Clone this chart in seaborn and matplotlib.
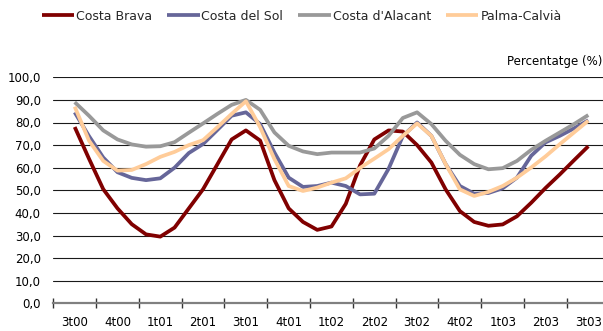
import numpy as np
import pandas as pd
import matplotlib
matplotlib.use("Agg")
import matplotlib.pyplot as plt
import seaborn as sns

# ---- data (monthly occupancy, Jul-2000 .. Jul-2003) ----
quarter_labels = ["3t00", "4t00", "1t01", "2t01", "3t01", "4t01", "1t02",
                  "2t02", "3t02", "4t02", "1t03", "2t03", "3t03"]
months = list(range(37))

costa_brava = [78, 64, 50.5, 42, 35, 30.5, 29.5, 33.5, 42, 50.5, 61.5, 72.5, 76.5,
               72, 54.5, 42, 36, 32.5, 34, 44, 61, 72.5, 76.5, 76, 70,
               62.3, 50.4, 40.8, 36, 34.3, 34.9, 38.5, 44.5, 51, 57, 63.3, 69.5]
costa_sol = [84.5, 74, 64.5, 58, 55.5, 54.5, 55.3, 60, 66.5, 70.5, 76.7, 83, 84.5,
             79.3, 66.7, 55.6, 51.5, 51.9, 53.4, 51.9, 48.2, 48.5, 59.5, 74, 80,
             74.1, 61.6, 51.9, 48.5, 48.8, 50.9, 55.6, 65.3, 71.2, 74.1, 77.4, 81]
costa_alacant = [89, 83, 76.5, 72.5, 70.3, 69.3, 69.5, 71.3, 75.5, 79.6, 83.8, 87.8, 90,
                 85.6, 75.6, 69.7, 67.2, 66, 66.7, 66.7, 66.7, 68.5, 74.1, 82, 84.5,
                 79.3, 71.9, 65.7, 61.6, 59.3, 59.8, 63, 67.9, 71.9, 75.6, 79.3, 83.3]
palma_calvia = [87, 72, 63, 58.7, 59, 61.6, 64.8, 67, 70, 72.2, 77.9, 83.8, 89.4,
                77.9, 63.8, 51.9, 49.7, 51.2, 53.4, 55.3, 59.9, 64, 68.2, 74.1, 79.6,
                74.1, 61.6, 50.4, 47.5, 49.3, 51.9, 55.6, 60.1, 65, 70.4, 75.6, 80.8]

series_names = ["Costa Brava", "Costa del Sol", "Costa d'Alacant", "Palma-Calvià"]
series_colors = ["#800000", "#666699", "#999999", "#FFCC99"]
y_ticks = list(range(0, 101, 10))

df = pd.DataFrame({
    "mes": months * 4,
    "valor": costa_brava + costa_sol + costa_alacant + palma_calvia,
    "zona": np.repeat(series_names, len(months)),
})

sns.set_theme(style="white")
plt.rcParams["font.family"] = ["DejaVu Sans"]

W, H = 603, 331
fig = plt.figure(figsize=(W / 100, H / 100), dpi=100)
fig.patch.set_facecolor("white")
ax = fig.add_axes([53.3 / W, (H - 303.3) / H, 13 * 42.8 / W, 226 / H])

sns.lineplot(data=df, x="mes", y="valor", hue="zona", hue_order=series_names,
             palette=dict(zip(series_names, series_colors)), linewidth=2.7,
             ax=ax, legend=False, sort=False,
             solid_joinstyle="round", solid_capstyle="butt")

ax.set_xlim(-1.5, 37.5)
ax.set_ylim(0, 100)
ax.set_xlabel("")
ax.set_ylabel("")

# y axis
ax.set_yticks(y_ticks)
ax.set_yticklabels([f"{v:.1f}".replace(".", ",") for v in y_ticks])
ax.tick_params(axis="y", length=0, pad=9, labelsize=8.5, labelcolor="black")
ax.yaxis.grid(True, color="#1a1a1a", linewidth=0.8)
ax.xaxis.grid(False)
ax.set_axisbelow(True)

# x axis
ax.set_xticks([-1.5 + 3 * k for k in range(13)])
ax.set_xticklabels([])
ax.set_xticks([3 * k for k in range(13)], minor=True)
ax.set_xticklabels(quarter_labels, minor=True)
ax.tick_params(axis="x", which="major", direction="inout", length=7, width=1,
               color="#333333", bottom=True)
ax.tick_params(axis="x", which="minor", length=0, pad=9, labelsize=8.5,
               labelcolor="black", bottom=True)

for s in ["top", "right", "left"]:
    ax.spines[s].set_visible(False)
ax.spines["bottom"].set_color("#808080")
ax.spines["bottom"].set_linewidth(1.6)
ax.spines["bottom"].set_zorder(3)

fig.text(602 / W, 1 - 62 / H, "Percentatge (%)", ha="right", va="center",
         fontsize=8.5, color="black")

handles = ax.get_lines()[:4]
fig.legend(handles, series_names, loc="center", bbox_to_anchor=(0.5, 1 - 16 / H),
           ncol=4, frameon=False, fontsize=9, handlelength=2.6,
           handletextpad=0.15, columnspacing=1.2, borderaxespad=0)

fig.savefig("out.png", dpi=100)
